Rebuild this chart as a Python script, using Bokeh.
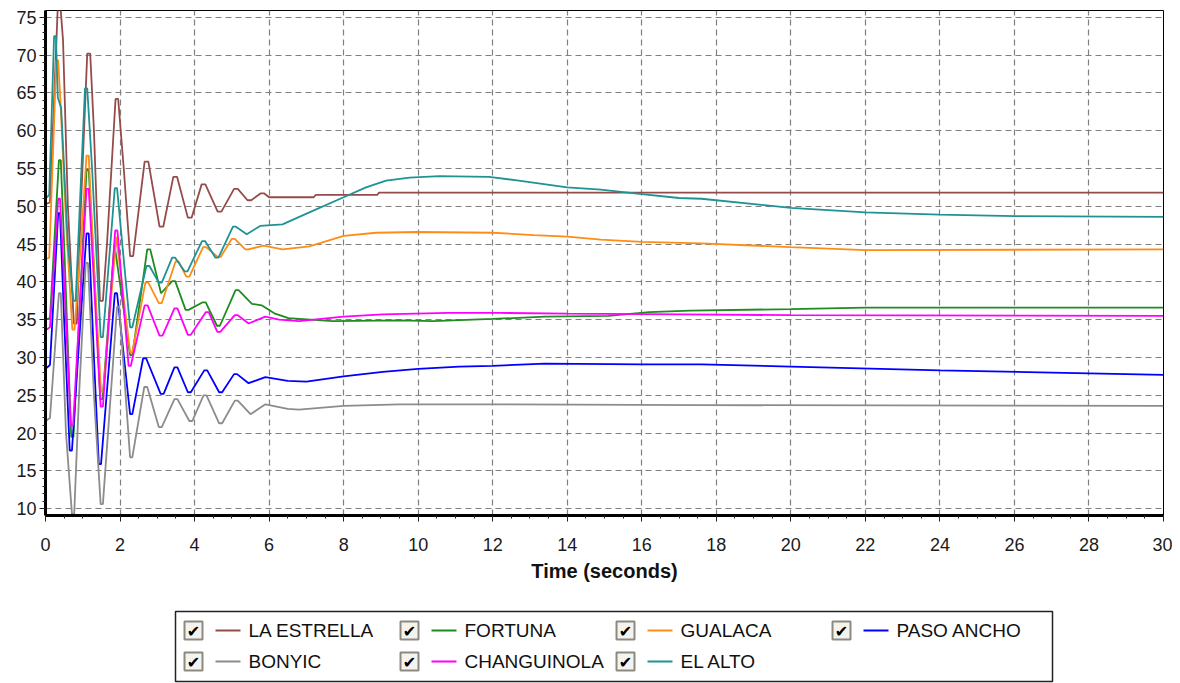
from bokeh.plotting import figure
from bokeh.models import Range1d, SingleIntervalTicker
from bokeh.layouts import column
from bokeh.embed import file_html
from bokeh.resources import INLINE
from bokeh.core.properties import value

names = ["LA ESTRELLA", "FORTUNA", "GUALACA", "PASO ANCHO", "BONYIC", "CHANGUINOLA", "EL ALTO"]
colors = ["#964B4B", "#1E8C1E", "#FF8C14", "#0000FF", "#8C8C8C", "#FF00FF", "#1F9393"]

t_estrella = [0, 0.12, 0.33, 0.4, 0.47, 0.6, 0.76, 0.84, 0.95, 1.12, 1.2, 1.3, 1.46, 1.54, 1.65, 1.88, 1.95, 2.1, 2.27, 2.35, 2.66, 2.76, 3.06, 3.16, 3.43, 3.53, 3.82, 3.92, 4.19, 4.29, 4.62, 4.72, 5.06, 5.16, 5.42, 5.52, 5.77, 5.87, 6.0, 7.2, 7.25, 8.9, 8.95, 30]
v_estrella = [50.3, 50.5, 76.5, 76.5, 72, 50, 34.5, 34.5, 50, 70.2, 70.2, 60, 37.5, 37.5, 45, 64.2, 64.2, 55, 43.4, 43.4, 55.9, 55.9, 47.3, 47.3, 53.9, 53.9, 48.5, 48.5, 52.9, 52.9, 49.3, 49.3, 52.3, 52.3, 50.8, 50.8, 51.7, 51.7, 51.2, 51.2, 51.5, 51.5, 51.8, 51.8]

t_fortuna = [0, 0.12, 0.36, 0.41, 0.5, 0.69, 0.75, 0.9, 1.1, 1.16, 1.3, 1.47, 1.53, 1.85, 2.27, 2.33, 2.73, 2.81, 3.1, 3.4, 3.48, 3.76, 3.84, 4.22, 4.3, 4.6, 4.68, 5.1, 5.18, 5.54, 5.8, 6.16, 6.52, 7.7, 9.5, 10.4, 12, 13.4, 15.1, 16.2, 17.3, 20, 22, 30]
v_fortuna = [35, 35.2, 56.1, 56.1, 45, 19.5, 19.5, 35, 54.8, 54.8, 42, 24.5, 24.5, 45, 30.3, 30.3, 44.3, 44.3, 38.5, 40.1, 40.1, 36.3, 36.3, 37.3, 37.3, 34.2, 34.2, 38.9, 38.9, 37.1, 36.9, 35.8, 35.2, 34.8, 34.9, 34.8, 35.1, 35.4, 35.5, 36.0, 36.2, 36.4, 36.6, 36.6]

t_gualaca = [0, 0.1, 0.29, 0.34, 0.4, 0.55, 0.72, 0.78, 0.95, 1.1, 1.16, 1.3, 1.49, 1.55, 1.9, 2.27, 2.33, 2.68, 2.76, 3.04, 3.12, 3.49, 3.57, 3.78, 3.86, 4.23, 4.31, 4.62, 4.7, 5.0, 5.08, 5.36, 5.44, 5.85, 6.36, 7.08, 8, 8.87, 9.95, 12, 13.1, 14, 14.9, 16, 17.6, 20, 22, 30]
v_gualaca = [43, 43.2, 69.3, 69.3, 64, 48, 33.7, 33.7, 45, 56.7, 56.7, 42, 25.5, 25.5, 46, 30.7, 30.7, 39.9, 39.9, 37.2, 37.2, 42.7, 42.7, 40.7, 40.7, 44.6, 44.6, 43.3, 43.3, 45.7, 45.7, 44.3, 44.3, 44.8, 44.3, 44.7, 46.1, 46.5, 46.6, 46.5, 46.2, 46.0, 45.6, 45.3, 45.1, 44.6, 44.2, 44.3]

t_paso = [0, 0.12, 0.34, 0.39, 0.5, 0.65, 0.71, 0.9, 1.1, 1.16, 1.3, 1.43, 1.49, 1.86, 1.92, 2.27, 2.33, 2.62, 2.7, 3.09, 3.17, 3.46, 3.54, 3.82, 3.9, 4.26, 4.34, 4.66, 4.74, 5.06, 5.14, 5.45, 5.9, 6.5, 7, 8, 9.05, 10, 11.1, 12, 13.4, 16, 17.6, 20, 24, 28, 30]
v_paso = [28.5, 29, 49.1, 49.1, 35, 17.7, 17.7, 32, 46.4, 46.4, 30, 15.9, 15.9, 38.5, 38.5, 22.5, 22.5, 29.9, 29.9, 25.2, 25.2, 28.7, 28.7, 25.4, 25.4, 28.3, 28.3, 25.4, 25.4, 27.8, 27.8, 26.6, 27.4, 26.9, 26.8, 27.5, 28.1, 28.5, 28.8, 28.9, 29.2, 29.1, 29.1, 28.8, 28.3, 27.9, 27.7]

t_bonyic = [0, 0.12, 0.36, 0.41, 0.55, 0.71, 0.77, 0.9, 1.08, 1.14, 1.3, 1.48, 1.54, 1.92, 1.98, 2.27, 2.33, 2.65, 2.73, 3.04, 3.12, 3.46, 3.54, 3.86, 3.94, 4.24, 4.32, 4.66, 4.74, 5.08, 5.16, 5.5, 5.9, 6.5, 6.8, 8, 9.5, 12.2, 17.6, 30]
v_bonyic = [21.6, 22, 38.5, 38.5, 20, 9.3, 9.3, 25, 42.5, 42.5, 25, 10.6, 10.6, 36.7, 36.7, 16.8, 16.8, 26.1, 26.1, 20.8, 20.8, 24.5, 24.5, 21.6, 21.6, 25.0, 25.0, 21.3, 21.3, 24.3, 24.3, 22.5, 23.8, 23.2, 23.1, 23.6, 23.8, 23.8, 23.7, 23.6]

t_changuinola = [0, 0.12, 0.34, 0.39, 0.5, 0.68, 0.74, 0.9, 1.1, 1.16, 1.3, 1.48, 1.54, 1.87, 1.93, 2.23, 2.29, 2.66, 2.74, 3.06, 3.14, 3.46, 3.54, 3.82, 3.9, 4.3, 4.38, 4.61, 4.69, 5.08, 5.16, 5.45, 5.9, 6.27, 6.8, 8, 9.05, 10.8, 12.2, 14, 17.1, 20, 30]
v_changuinola = [33.6, 34, 51, 51, 40, 21, 21, 35, 52.3, 52.3, 40, 23.5, 23.5, 46.8, 46.8, 28.9, 28.9, 36.9, 36.9, 32.9, 32.9, 36.5, 36.5, 33.0, 33.0, 36.0, 36.0, 33.4, 33.4, 35.6, 35.6, 34.5, 35.4, 35.0, 34.8, 35.4, 35.7, 35.9, 35.9, 35.8, 35.7, 35.6, 35.5]

t_alto = [0, 0.1, 0.23, 0.28, 0.33, 0.42, 0.6, 0.75, 0.81, 0.92, 1.06, 1.12, 1.25, 1.48, 1.54, 1.86, 1.92, 2.27, 2.33, 2.71, 2.79, 3.04, 3.12, 3.4, 3.48, 3.73, 3.81, 4.2, 4.28, 4.56, 4.64, 5.03, 5.11, 5.4, 5.76, 6.36, 7.08, 8, 8.6, 9.14, 9.77, 10.57, 11.9, 12.7, 14, 14.9, 16, 17, 17.6, 20, 22, 24, 26, 30]
v_alto = [51, 51.5, 72.5, 72.5, 64.4, 63, 45, 37.5, 37.5, 50, 65.6, 65.6, 55, 32.7, 32.7, 52.4, 52.4, 34.0, 34.0, 42.1, 42.1, 39.9, 39.9, 43.2, 43.2, 41.4, 41.4, 45.4, 45.4, 43.2, 43.2, 47.3, 47.3, 46.3, 47.4, 47.6, 49.2, 51.2, 52.5, 53.4, 53.8, 54.0, 53.9, 53.4, 52.5, 52.2, 51.6, 51.1, 51.0, 49.8, 49.2, 48.9, 48.7, 48.6]

series_t = [t_estrella, t_fortuna, t_gualaca, t_paso, t_bonyic, t_changuinola, t_alto]
series_v = [v_estrella, v_fortuna, v_gualaca, v_paso, v_bonyic, v_changuinola, v_alto]

x_label = "Time (seconds)"
FONT = "Liberation Sans"

W = 1172
FL, FR = 45, 1163  # frame edges in page pixels (shared by both figures in the column)
p = figure(width=W, height=598, output_backend="svg", toolbar_location=None,
           x_range=Range1d(0, 30), y_range=Range1d(9.1, 75.9),
           min_border_left=FL, min_border_right=W - FR, min_border_top=10, min_border_bottom=83)
p.background_fill_color = "white"
p.border_fill_color = "white"
p.outline_line_color = "black"
p.outline_line_width = 1

for tt, vv, c in zip(series_t, series_v, colors):
    p.line(tt, vv, line_color=c, line_width=1.8)

p.xaxis.ticker = SingleIntervalTicker(interval=2, num_minor_ticks=4)
p.yaxis.ticker = SingleIntervalTicker(interval=5, num_minor_ticks=5)
for ax in (p.xaxis[0], p.yaxis[0]):
    ax.axis_line_color = "black"
    ax.axis_line_width = 3
    ax.major_tick_line_color = "#222222"
    ax.minor_tick_line_color = "#222222"
    ax.major_tick_out = 6
    ax.major_tick_in = 0
    ax.minor_tick_out = 3
    ax.minor_tick_in = 0
    ax.major_label_text_font = FONT
    ax.major_label_text_font_size = "18px"
    ax.major_label_text_color = "#1a1a1a"
p.xaxis.major_label_standoff = 16
p.yaxis.major_label_standoff = 3
p.xaxis.axis_label = x_label
p.xaxis.axis_label_text_font = FONT
p.xaxis.axis_label_text_font_size = "20px"
p.xaxis.axis_label_text_font_style = "bold"
p.xaxis.axis_label_text_color = "#111111"
p.xaxis.axis_label_standoff = 6

for g in (p.xgrid[0], p.ygrid[0]):
    g.grid_line_color = "#808080"
    g.grid_line_dash = "6 4"
    g.grid_line_width = 1.2

# legend panel: data coordinates equal page pixels
LH = 85
L = figure(width=W, height=LH, output_backend="svg", toolbar_location=None,
           x_range=Range1d(FL, FR), y_range=Range1d(LH, 0),
           min_border_left=FL, min_border_right=W - FR, min_border_top=0, min_border_bottom=0)
L.axis.visible = False
L.grid.visible = False
L.outline_line_color = None
L.background_fill_color = "white"
L.border_fill_color = "white"

L.quad(left=[175], right=[1052], top=[13], bottom=[83], fill_color="white",
       line_color="#222222", line_width=1.5)

cb_x, cb_y, seg_x0, seg_x1, txt_x = [], [], [], [], []
for i in range(len(names)):
    col, row = i % 4, i // 4
    left = 183 + col * 216
    y = 32 + row * 31
    cb_x.append(left + 10)
    cb_y.append(y)
    seg_x0.append(left + 32)
    seg_x1.append(left + 57)
    txt_x.append(left + 65)

L.rect(cb_x, cb_y, width=18, height=18, fill_color="#F4F3EE", line_color="#8C8A80", line_width=2)
L.text(cb_x, [y + 1 for y in cb_y], text=["✔"] * len(names), text_font=value("DejaVu Sans"),
       text_font_size="16px", text_align="center", text_baseline="middle", text_color="black")
L.segment(seg_x0, cb_y, seg_x1, cb_y, line_color=colors, line_width=1.8)
L.text(txt_x, cb_y, text=names, text_font=value(FONT), text_font_size="19px",
       text_align="left", text_baseline="middle", text_color="#111111")

layout = column(p, L, spacing=0)
open("out.html", "w").write(file_html(layout, INLINE))
